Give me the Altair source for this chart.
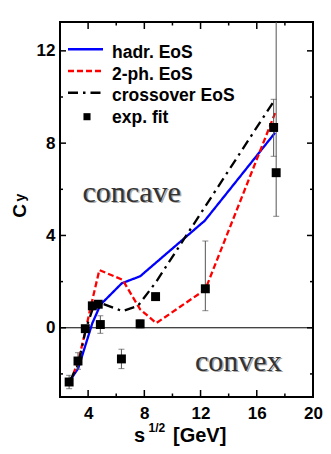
import altair as alt
import pandas as pd

# ---- data ----
hadr_x = [2.7, 3.3, 3.84, 4.3, 4.88, 6.4, 7.7, 12.3, 17.3]
hadr_y = [-2.3, -1.75, -0.7, 0.2, 1.0, 1.93, 2.23, 4.64, 8.45]

twoph_x = [2.7, 3.3, 3.84, 4.2, 4.8, 6.45, 7.7, 8.85, 12.34, 17.3]
twoph_y = [-2.38, -1.45, -0.05, 0.95, 2.5, 2.08, 0.8, 0.2, 1.66, 9.3]

cross_x = [2.7, 3.3, 3.84, 4.4, 4.85, 6.45, 7.55, 8.85, 17.3]
cross_y = [-2.3, -1.6, -0.05, 0.95, 1.08, 0.72, 0.95, 2.0, 9.9]

exp_x = [2.65, 3.28, 3.8, 4.3, 4.72, 4.87, 6.37, 7.7, 8.8, 12.34, 17.2, 17.38]
exp_y = [-2.35, -1.44, -0.04, 0.95, 1.02, 0.14, -1.35, 0.17, 1.35, 1.69, 8.68, 6.72]
exp_lo = [-2.64, -1.8, -0.14, 0.85, 0.92, -0.24, -1.77, 0.0, 1.2, 0.74, 7.43, 4.83]
exp_hi = [-2.06, -1.08, 0.06, 1.05, 1.12, 0.52, -0.93, 0.34, 1.5, 3.76, 9.9, 16.0]

x_major = [4, 8, 12, 16]
x_minor = [6, 10, 14, 18]
y_major = [0, 4, 8, 12]
y_minor = [-2, 2, 6, 10]
x_labels = [4, 8, 12, 16, 20]

legend_labels = ["hadr. EoS", "2-ph. EoS", "crossover EoS", "exp. fit"]

W, H = 253, 375
XDOM = [2, 20]
YDOM = [-3, 13.25]
SANS = "Liberation Sans"
SERIF = "Liberation Serif"

xs = alt.Scale(domain=XDOM, nice=False, zero=False)
ys = alt.Scale(domain=YDOM, nice=False, zero=False)


def X(field="x"):
    return alt.X(f"{field}:Q", scale=xs, title=None)


def Y(field="y"):
    return alt.Y(f"{field}:Q", scale=ys, title=None)


def line(xv, yv, color, dash):
    df = pd.DataFrame({"x": xv, "y": yv, "o": list(range(len(xv)))})
    return alt.Chart(df).mark_line(color=color, strokeWidth=2.3, strokeDash=dash, clip=True).encode(
        x=X(), y=Y(), order="o:Q")


exp_df = pd.DataFrame({"x": exp_x, "y": exp_y, "lo": exp_lo, "hi": exp_hi})

# base layer holding the axes
base = alt.Chart(pd.DataFrame({"y": [0]})).mark_rule(color="black", strokeWidth=1).encode(
    y=alt.Y("y:Q", scale=ys, title=None,
            axis=alt.Axis(values=y_major, ticks=False, tickSize=0, domain=False, grid=False,
                          labelFont=SANS, labelFontWeight="bold", labelFontSize=17,
                          labelColor="black", labelPadding=5, labelFlush=False)),
)
xaxis_layer = alt.Chart(pd.DataFrame({"x": [2]})).mark_point(opacity=0).encode(
    x=alt.X("x:Q", scale=xs, title=None,
            axis=alt.Axis(values=x_labels, ticks=False, tickSize=0, domain=False, grid=False,
                          labelFont=SANS, labelFontWeight="bold", labelFontSize=17,
                          labelColor="black", labelPadding=8, labelFlush=False)),
    y=alt.value(0),
)

l_hadr = line(hadr_x, hadr_y, "#0000ff", [1, 0])
l_2ph = line(twoph_x, twoph_y, "#ff0000", [6, 3])
l_cross = line(cross_x, cross_y, "#000000", [10, 5, 2.5, 5])

err = alt.Chart(exp_df).mark_rule(color="#555555", strokeWidth=1, clip=True).encode(
    x=X(), y=Y("lo"), y2="hi:Q")
cap_lo = alt.Chart(exp_df).mark_tick(color="#555555", thickness=1, size=6, orient="horizontal", clip=True).encode(
    x=X(), y=Y("lo"))
cap_hi = alt.Chart(exp_df).mark_tick(color="#555555", thickness=1, size=6, orient="horizontal", clip=True).encode(
    x=X(), y=Y("hi"))
pts = alt.Chart(exp_df).mark_square(color="black", filled=True, size=80, opacity=1, clip=True).encode(
    x=X(), y=Y())

# inner ticks on all four sides
def xticks(vals, ln):
    df = pd.DataFrame({"x": vals})
    b = alt.Chart(df).mark_rule(color="black", strokeWidth=1.5)
    return (b.encode(x=X(), y=alt.value(H), y2=alt.value(H - ln)) +
            b.encode(x=X(), y=alt.value(0), y2=alt.value(ln)))


def yticks(vals, ln):
    df = pd.DataFrame({"y": vals})
    b = alt.Chart(df).mark_rule(color="black", strokeWidth=1.5)
    return (b.encode(y=Y(), x=alt.value(0), x2=alt.value(ln)) +
            b.encode(y=Y(), x=alt.value(W), x2=alt.value(W - ln)))


ticks = xticks(x_major, 7) + xticks(x_minor, 3.5) + yticks(y_major, 6) + yticks(y_minor, 3)

# region annotations (shadowed serif text)
def shadow_text(txt, xv, yv):
    df = pd.DataFrame({"x": [xv], "y": [yv], "t": [txt]})
    sh = alt.Chart(df).mark_text(font=SERIF, fontSize=30, color="#aaaaaa", dx=1.5, dy=1.5,
                                 align="center", baseline="alphabetic").encode(x=X(), y=Y(), text="t:N")
    fg = alt.Chart(df).mark_text(font=SERIF, fontSize=30, color="#333333",
                                 align="center", baseline="alphabetic").encode(x=X(), y=Y(), text="t:N")
    return sh + fg


ann = shadow_text("concave", 7.1, 5.47) + shadow_text("convex", 14.69, -1.86)

# manual legend
leg_line_y = [27.3, 49, 70.7]
leg_text_y = [36, 57.5, 79, 100.5]
leg = None
styles = [("#0000ff", [1, 0]), ("#ff0000", [6, 3]), ("#000000", [10, 5, 2.5, 5])]
one = pd.DataFrame({"a": [0]})
for (c, d), yy in zip(styles, leg_line_y):
    lyr = alt.Chart(one).mark_rule(color=c, strokeWidth=2.5, strokeDash=d).encode(
        x=alt.value(8), x2=alt.value(43), y=alt.value(yy))
    leg = lyr if leg is None else leg + lyr
leg += alt.Chart(one).mark_square(color="black", filled=True, size=50, opacity=1).encode(
    x=alt.value(27), y=alt.value(94.7))
for lab, yy in zip(legend_labels, leg_text_y):
    leg += alt.Chart(pd.DataFrame({"t": [lab]})).mark_text(
        font=SANS, fontWeight="bold", fontSize=17.5, align="left", baseline="alphabetic", color="black"
    ).encode(x=alt.value(52), y=alt.value(yy), text="t:N")

# axis titles as text
def label(txt, xv, yv, size, angle=0, align="left", baseline="alphabetic"):
    kw = dict(font=SANS, fontWeight="bold", fontSize=size, align=align, baseline=baseline, color="black")
    if angle:
        kw["angle"] = angle
    return alt.Chart(pd.DataFrame({"t": [txt]})).mark_text(**kw).encode(
        x=alt.value(xv), y=alt.value(yv), text="t:N")


titles = (label("C", -40.5, 189, 19, angle=270, align="center", baseline="middle") +
          label("y", -39, 175.5, 14, angle=270, align="center", baseline="middle") +
          label("s", 74, 420, 20) + label("1/2", 88.5, 410, 12) + label("[GeV]", 113, 420, 20))

chart = alt.layer(
    base, xaxis_layer, l_hadr, l_2ph, l_cross, err, cap_lo, cap_hi, pts, ticks, ann, leg, titles
).properties(
    width=W, height=H,
    autosize=alt.AutoSizeParams(type="none"),
    padding={"left": 52, "top": 14, "right": 10, "bottom": 49},
).configure_view(stroke="black", strokeWidth=2)

chart.save("out.html", embed_options={"renderer": "svg", "actions": False})
